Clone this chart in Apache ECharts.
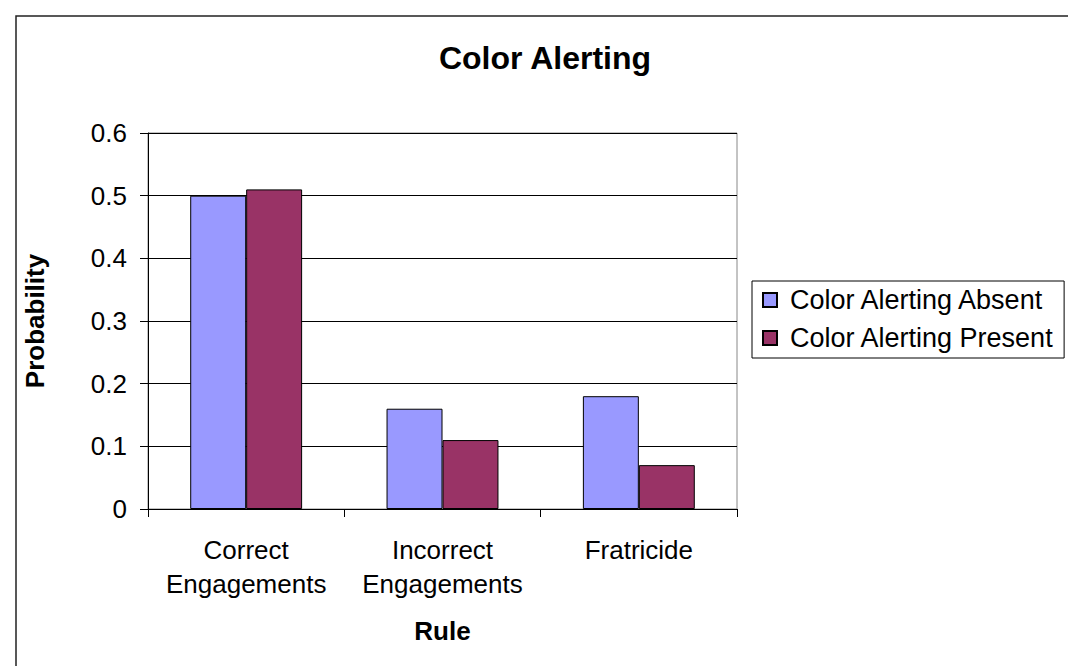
<!DOCTYPE html>
<html>
<head>
<meta charset="utf-8">
<style>
  html, body { margin: 0; padding: 0; background: #fff; }
  #chart { width: 1068px; height: 666px; }
</style>
<script src="https://cdn.jsdelivr.net/npm/echarts@6/dist/echarts.min.js"></script>
</head>
<body>
<div id="chart"></div>
<script>
// Categories along the x axis
const categories = ['Correct\nEngagements', 'Incorrect\nEngagements', 'Fratricide'];
// Probabilities for each condition
const absentValues = [0.50, 0.16, 0.18];
const presentValues = [0.51, 0.11, 0.07];
// Y axis range
const yMin = 0, yMax = 0.6, yStep = 0.1;

const FONT = '"Liberation Sans", Arial, sans-serif';
const chart = echarts.init(document.getElementById('chart'), null, { renderer: 'svg' });

chart.setOption({
  backgroundColor: '#fff',
  animation: false,
  textStyle: { fontFamily: FONT, color: '#000' },
  title: {
    text: 'Color Alerting',
    left: 540, top: 37,
    textAlign: 'center',
    textStyle: { fontFamily: FONT, fontSize: 32, fontWeight: 'bold', color: '#000' }
  },
  graphic: [{
    type: 'rect',
    shape: { x: 16, y: 16, width: 1200, height: 800 },
    style: { fill: 'none', stroke: '#222', lineWidth: 1.5 },
    silent: true, z: 100
  }],
  legend: {
    orient: 'vertical',
    left: 752, top: 281,
    padding: [4, 10, 5, 10],
    itemGap: 8,
    itemWidth: 14, itemHeight: 14,
    borderColor: '#000', borderWidth: 1,
    icon: 'rect',
    textStyle: { fontFamily: FONT, fontSize: 27, color: '#000', lineHeight: 30, padding: [0, 0, 0, 8] },
    data: ['Color Alerting Absent', 'Color Alerting Present']
  },
  grid: {
    left: 148, right: 331, top: 133, bottom: 157,
    show: true, borderColor: '#888', borderWidth: 1
  },
  xAxis: {
    type: 'category',
    data: categories,
    name: 'Rule',
    nameLocation: 'middle',
    nameGap: 109,
    nameTextStyle: { fontFamily: FONT, fontSize: 26, fontWeight: 'bold', color: '#000' },
    axisLine: { lineStyle: { color: '#000', width: 1 } },
    axisTick: { show: true, length: 8, lineStyle: { color: '#000' } },
    axisLabel: { fontFamily: FONT, fontSize: 26, color: '#000', lineHeight: 34, margin: 24, interval: 0 }
  },
  yAxis: {
    type: 'value',
    min: yMin, max: yMax, interval: yStep,
    name: 'Probability',
    nameLocation: 'middle',
    nameRotate: 90,
    nameGap: 100,
    nameTextStyle: { fontFamily: FONT, fontSize: 26, fontWeight: 'bold', color: '#000' },
    axisLine: { show: true, lineStyle: { color: '#000', width: 1 } },
    axisTick: { show: true, length: 8, lineStyle: { color: '#000' } },
    axisLabel: {
      fontFamily: FONT, fontSize: 26, color: '#000', margin: 21,
      formatter: v => (v === 0 ? '0' : v.toFixed(1))
    },
    splitLine: { show: true, lineStyle: { color: '#000', width: 1 } }
  },
  series: [
    {
      name: 'Color Alerting Absent',
      type: 'bar',
      data: absentValues,
      barGap: '0%',
      barCategoryGap: '43%',
      itemStyle: { color: '#9999FF', borderColor: '#000', borderWidth: 1 }
    },
    {
      name: 'Color Alerting Present',
      type: 'bar',
      data: presentValues,
      barGap: '0%',
      barCategoryGap: '43%',
      itemStyle: { color: '#993366', borderColor: '#000', borderWidth: 1 }
    }
  ]
});
</script>
</body>
</html>
